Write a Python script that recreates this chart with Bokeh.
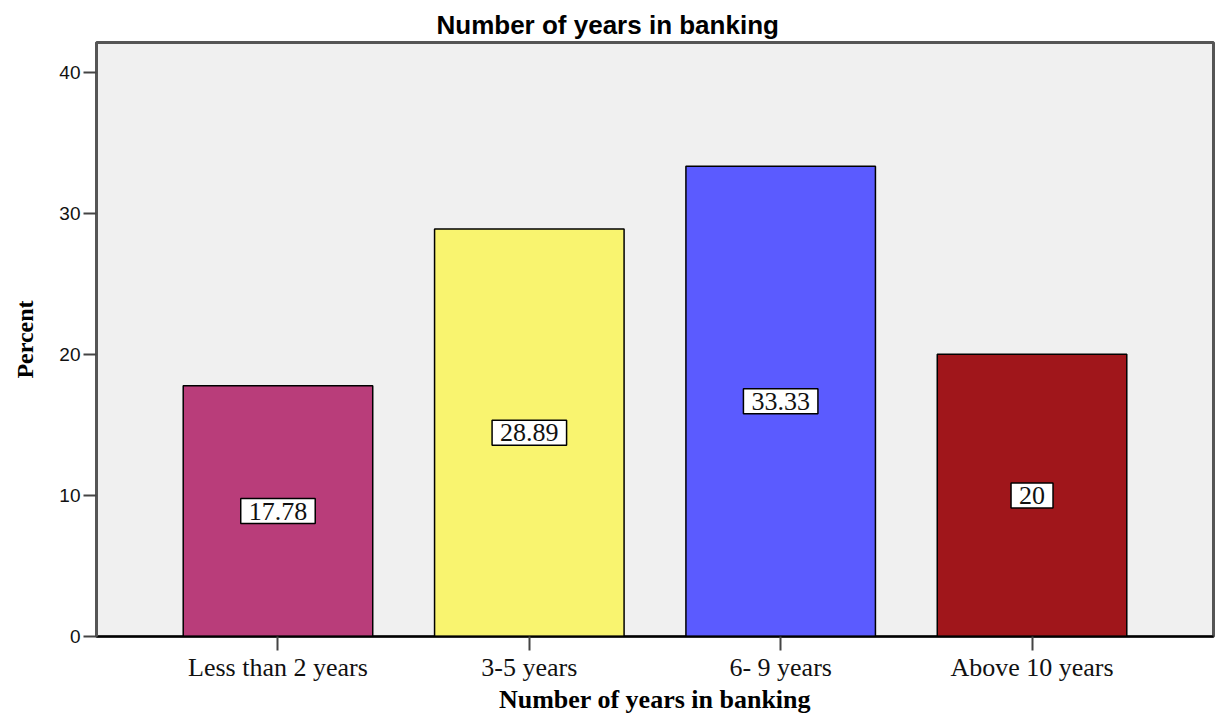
from bokeh.plotting import figure
from bokeh.models import ColumnDataSource, FactorRange, Range1d, FixedTicker
from bokeh.core.properties import value
from bokeh.embed import file_html
from bokeh.resources import INLINE

categories = ["Less than 2 years", "3-5 years", "6- 9 years", "Above 10 years"]
percent = [17.78, 28.89, 33.33, 20.0]
label_text = ["17.78", "28.89", "33.33", "20"]
bar_colors = ["#B93D7A", "#F9F46F", "#5B5BFF", "#A0161B"]
y_ticks = [0, 10, 20, 30, 40]

src = ColumnDataSource(dict(
    cat=categories, val=percent, mid=[v / 2 for v in percent],
    txt=label_text, color=bar_colors))

p = figure(width=1222, height=717, output_backend="svg", toolbar_location=None,
           x_range=FactorRange(*categories, range_padding=0.111),
           y_range=Range1d(0, 42.1),
           min_border_left=96, min_border_right=9, min_border_top=42, min_border_bottom=81,
           background_fill_color="#F0F0F0", border_fill_color="white",
           outline_line_color="#555555", outline_line_width=3)

p.title.text = "Number of years in banking"
p.title.align = "left"
p.title.offset = 340
p.title.text_font = "Liberation Sans"
p.title.text_font_size = "26px"
p.title.text_font_style = "bold"
p.title.text_color = "black"
p.title.standoff = 6

p.vbar(x="cat", top="val", width=0.754, source=src, fill_color="color",
       line_color="black", line_width=1.5)

p.text(x="cat", y="mid", text="txt", source=src, text_align="center",
       text_baseline="middle", text_font=value("Liberation Serif"),
       text_font_size="26px", text_color="#111111",
       background_fill_color="white", border_line_color="black",
       border_line_width=1.5, padding=(8, 4))

p.xgrid.visible = False
p.ygrid.visible = False

p.yaxis.ticker = FixedTicker(ticks=y_ticks)
p.yaxis.minor_tick_line_color = None
p.yaxis.major_tick_in = 0
p.yaxis.major_tick_out = 13
p.yaxis.major_tick_line_color = "#444444"
p.yaxis.major_tick_line_width = 2
p.yaxis.axis_line_color = "#555555"
p.yaxis.axis_line_width = 3
p.yaxis.major_label_text_font = "Liberation Sans"
p.yaxis.major_label_text_font_size = "19px"
p.yaxis.major_label_text_color = "#111111"
p.yaxis.major_label_standoff = 3
p.yaxis.axis_label = "Percent"
p.yaxis.axis_label_text_font = "Liberation Serif"
p.yaxis.axis_label_text_font_size = "24px"
p.yaxis.axis_label_text_font_style = "bold"
p.yaxis.axis_label_text_color = "black"
p.yaxis.axis_label_standoff = 18

p.xaxis.major_tick_in = 0
p.xaxis.major_tick_out = 14
p.xaxis.major_tick_line_color = "#444444"
p.xaxis.major_tick_line_width = 2
p.xaxis.axis_line_color = "black"
p.xaxis.axis_line_width = 2
p.xaxis.major_label_text_font = "Liberation Serif"
p.xaxis.major_label_text_font_size = "26px"
p.xaxis.major_label_text_color = "#111111"
p.xaxis.major_label_standoff = 2
p.xaxis.axis_label = "Number of years in banking"
p.xaxis.axis_label_text_font = "Liberation Serif"
p.xaxis.axis_label_text_font_size = "26px"
p.xaxis.axis_label_text_font_style = "bold"
p.xaxis.axis_label_text_color = "black"
p.xaxis.axis_label_standoff = 0

open("out.html", "w").write(file_html(p, INLINE))
